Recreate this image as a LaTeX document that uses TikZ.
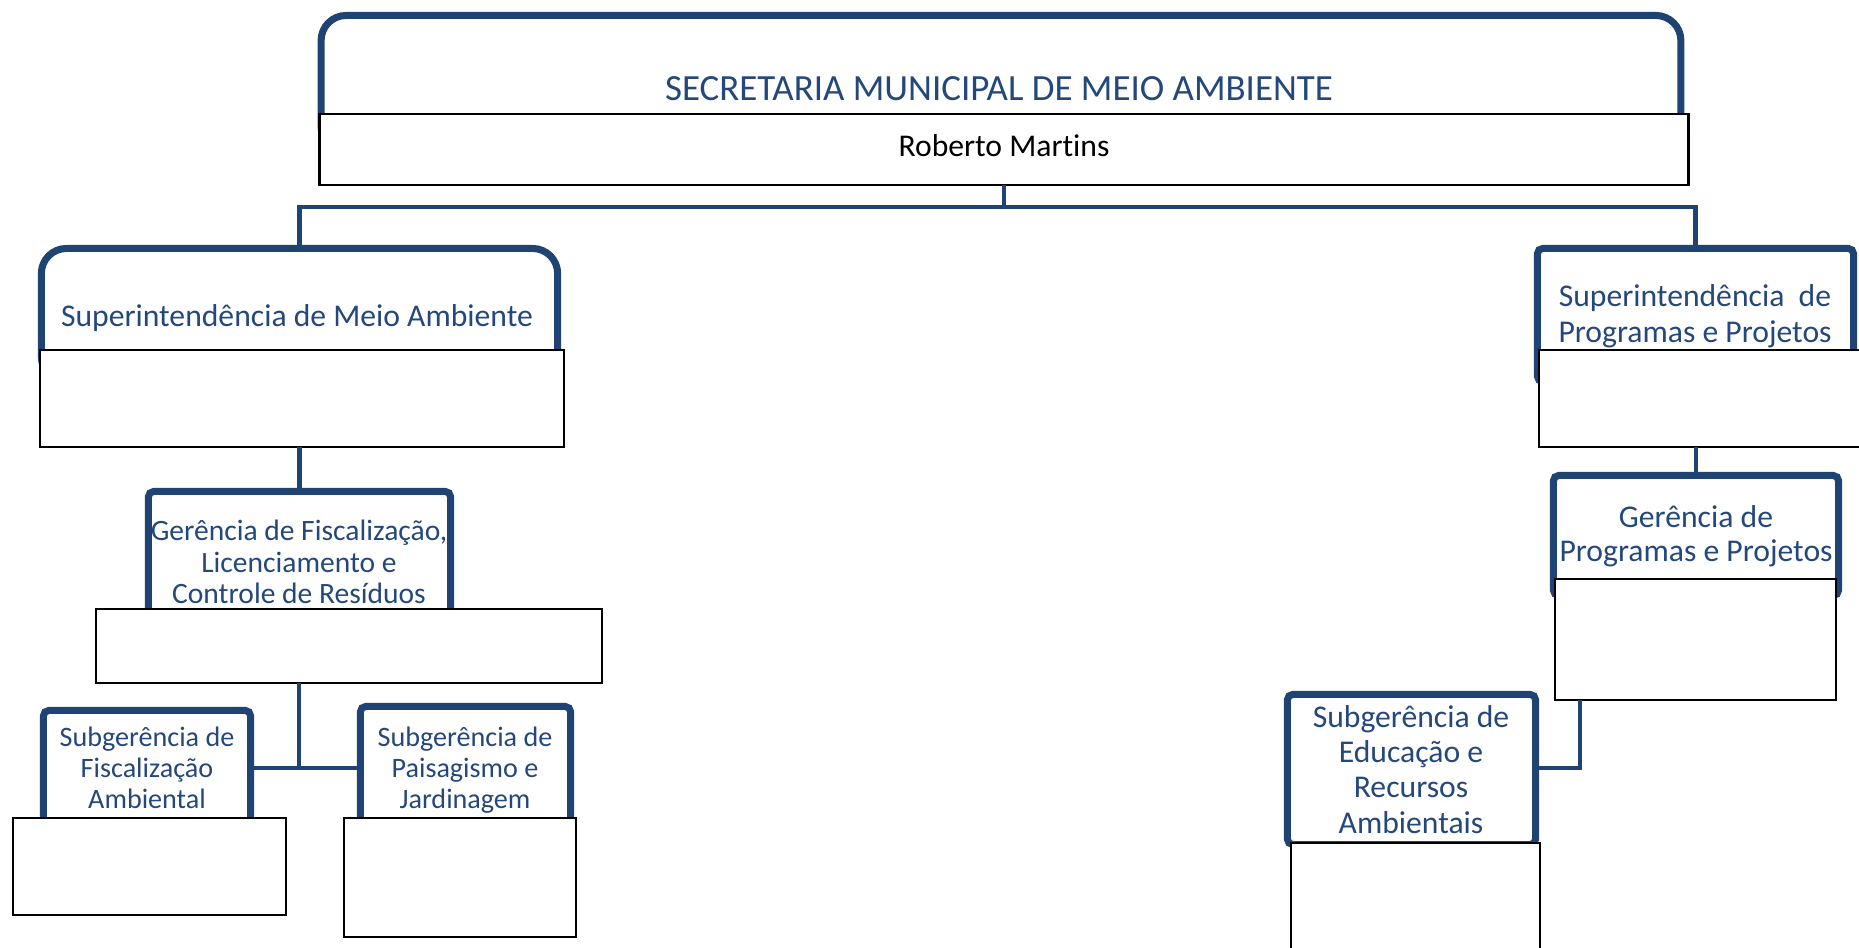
\documentclass[tikz,border=0pt]{standalone}
\usepackage{fontspec}
\setmainfont{Carlito}[Ligatures=CommonOff]
\definecolor{navy}{RGB}{31,68,115}
\definecolor{navytext}{RGB}{36,72,124}

\begin{document}
\begin{tikzpicture}[x=0.01cm,y=-0.01cm,
  unit/.style={draw=navy,line width=2pt,fill=white,inner sep=0pt,outer sep=0pt,rounded corners=1.5pt},
  head/.style={unit,rounded corners=0.25cm},
  namebox/.style={draw=black,line width=0.7pt,fill=white,inner sep=0pt,outer sep=0pt},
  label/.style={text=navytext,align=center,inner sep=0pt},
  link/.style={draw=navy,line width=1.4pt}]
\path[use as bounding box] (0,0) rectangle (1859,948);

% secretaria
\node[head,minimum width=13.59cm,minimum height=1.36cm] (sec) at (1001,83.5) {};
\node[label,font=\fontsize{10.5}{12}\selectfont] (sect) at (999,89) {SECRETARIA MUNICIPAL DE MEIO AMBIENTE};
\node[namebox,minimum width=13.68cm,minimum height=0.71cm] (secr) at (1004,149.5) {};
\node[inner sep=0pt,font=\fontsize{9}{11}\selectfont] (secn) at (1004,145.5) {Roberto Martins};

% left branch
\node[head,minimum width=5.16cm,minimum height=1.33cm] (sma) at (299.5,315) {};
\node[label,font=\fontsize{9}{11}\selectfont] (smat) at (297,318) {Superintendência de Meio Ambiente};
\node[namebox,minimum width=5.24cm,minimum height=0.97cm] (smar) at (302,398.5) {};

\node[unit,minimum width=3.02cm,minimum height=1.335cm] (gfl) at (299.5,558.25) {};
\node[label,font=\fontsize{8.4}{9}\selectfont] (gflt) at (299,562) {Gerência de Fiscalização,\\Licenciamento e\\Controle de Resíduos};
\node[namebox,minimum width=5.06cm,minimum height=0.74cm] (gflr) at (349,646) {};

\node[unit,minimum width=2.07cm,minimum height=1.195cm] (sgf) at (147,770.25) {};
\node[label,font=\fontsize{8}{8.8}\selectfont] (sgft) at (147,768) {Subgerência de\\Fiscalização\\Ambiental};
\node[namebox,minimum width=2.73cm,minimum height=0.97cm] (sgfr) at (149.5,866.5) {};

\node[unit,minimum width=2.10cm,minimum height=1.235cm] (sgp) at (465.5,768.25) {};
\node[label,font=\fontsize{8}{8.8}\selectfont] (sgpt) at (465,770.5) {Subgerência de\\Paisagismo e\\Jardinagem};
\node[namebox,minimum width=2.32cm,minimum height=1.19cm] (sgpr) at (460,877.5) {};

% right branch
\node[unit,minimum width=3.16cm,minimum height=1.33cm] (spp) at (1695.5,315) {};
\node[label,font=\fontsize{9}{10.2}\selectfont] (sppt) at (1695,316.5) {Superintendência\ \ de\\Programas e Projetos};
\node[namebox,minimum width=3.31cm,minimum height=0.97cm] (sppr) at (1704.5,398.5) {};

\node[unit,minimum width=2.85cm,minimum height=1.20cm] (gpp) at (1696,535.5) {};
\node[label,font=\fontsize{9}{9.7}\selectfont] (gppt) at (1696,536.5) {Gerência de\\Programas e Projetos};
\node[namebox,minimum width=2.81cm,minimum height=1.21cm] (gppr) at (1695.5,639.5) {};

\node[unit,minimum width=2.48cm,minimum height=1.50cm] (sge) at (1411.5,769.5) {};
\node[label,font=\fontsize{9}{10}\selectfont] (sget) at (1411,769.5) {Subgerência de\\Educação e\\Recursos\\Ambientais};
\node[namebox,minimum width=2.49cm,minimum height=1.37cm] (sger) at (1415.5,911.5) {};

% links
\coordinate (bus) at (1004,207);
\coordinate (jf) at (299,768);
\coordinate (je) at (1580,768);
\path[link] (secr.south) -- (bus);
\path[link] (sma.north) |- (bus) -| (spp.north);
\path[link] (smar.south -| gfl.north) -- (gfl.north);
\path[link] (gflr.south -| jf) -- (jf);
\path[link] (sgf.east |- jf) -- (sgp.west |- jf);
\path[link] (sppr.south -| gpp.north) -- (gpp.north);
\path[link] (gppr.south -| je) -- (je) -- (sge.east |- je);
\end{tikzpicture}
\end{document}
